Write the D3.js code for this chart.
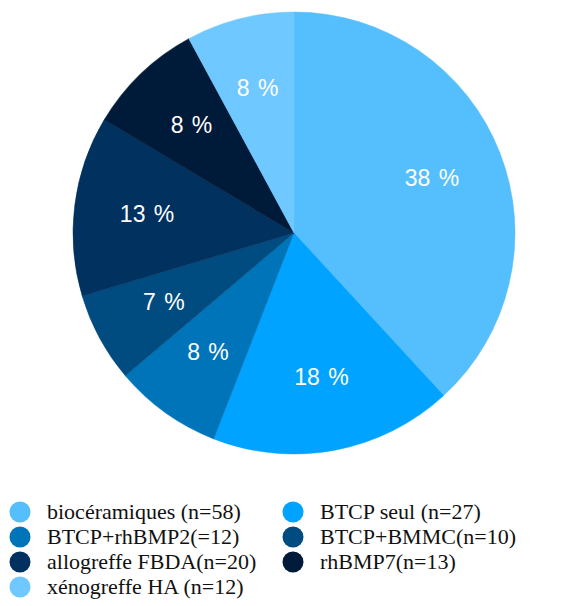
<!DOCTYPE html>
<html>
<head>
<meta charset="utf-8">
<script src="https://cdn.jsdelivr.net/npm/d3@7"></script>
<style>
  body { margin: 0; background: #fff; }
  svg { display: block; }
  .legend text { font-family: "Liberation Serif", "DejaVu Serif", "Times New Roman", serif; }
</style>
</head>
<body>
<div id="chart"></div>
<script>
// data
var categories = ["biocéramiques (n=58)", "BTCP seul (n=27)", "BTCP+rhBMP2(=12)", "BTCP+BMMC(n=10)",
                  "allogreffe FBDA(n=20)", "rhBMP7(n=13)", "xénogreffe HA (n=12)"];
var counts = [58, 27, 12, 10, 20, 13, 12];
var pctLabels = ["38 %", "18 %", "8 %", "7 %", "13 %", "8 %", "8 %"];
var colors = ["#55bffd", "#00a3ff", "#0074b9", "#004c80", "#00315f", "#001a39", "#6fc8ff"];

var width = 579, height = 606;
var cx = 294, cy = 233, radius = 221;

var svg = d3.select("#chart").append("svg")
    .attr("width", width)
    .attr("height", height);

var pie = d3.pie().sort(null).value(function(d) { return d; });
var arcs = pie(counts);

var arc = d3.arc().innerRadius(0).outerRadius(radius);
var labelArc = d3.arc().innerRadius(radius * 0.67).outerRadius(radius * 0.67);

var g = svg.append("g")
    .attr("transform", "translate(" + cx + "," + cy + ")");

g.selectAll("path")
    .data(arcs)
    .enter().append("path")
    .attr("d", arc)
    .attr("fill", function(d, i) { return colors[i]; })
    .attr("stroke", function(d, i) { return colors[i]; })
    .attr("stroke-width", 0.5);

g.selectAll("text")
    .data(arcs)
    .enter().append("text")
    .attr("transform", function(d) { return "translate(" + labelArc.centroid(d) + ")"; })
    .attr("text-anchor", "middle")
    .attr("dy", "0.3em")
    .attr("font-family", "Liberation Sans, Arial, sans-serif")
    .attr("font-size", 23)
    .style("word-spacing", "2px")
    .attr("fill", "#fff")
    .text(function(d, i) { return pctLabels[i]; });

// legend, two columns
var legend = svg.append("g").attr("class", "legend");
var item = legend.selectAll(".item")
    .data(categories)
    .enter().append("g")
    .attr("class", "item")
    .attr("transform", function(d, i) {
      var col = i % 2, row = Math.floor(i / 2);
      return "translate(" + (col === 0 ? 20 : 293) + "," + (512 + row * 25) + ")";
    });

item.append("circle")
    .attr("r", 10.5)
    .attr("fill", function(d, i) { return colors[i]; });

item.append("text")
    .attr("x", 27)
    .attr("dy", "0.34em")
    .attr("font-size", 22)
    .attr("fill", "#111")
    .text(function(d) { return d; });
</script>
</body>
</html>
